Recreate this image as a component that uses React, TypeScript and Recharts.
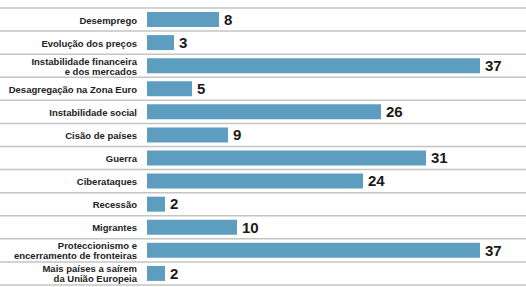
import { Bar, BarChart, CartesianGrid, LabelList, XAxis, YAxis } from "recharts";

const CATEGORIES = [
  "Desemprego",
  "Evolução dos preços",
  "Instabilidade financeira\ne dos mercados",
  "Desagregação na Zona Euro",
  "Instabilidade social",
  "Cisão de países",
  "Guerra",
  "Ciberataques",
  "Recessão",
  "Migrantes",
  "Proteccionismo e\nencerramento de fronteiras",
  "Mais países a saírem\nda União Europeia",
];
const VALUES = [8, 3, 37, 5, 26, 9, 31, 24, 2, 10, 37, 2];

const DATA = CATEGORIES.map((name, i) => ({ name, value: VALUES[i] }));

const FONT = "'Liberation Sans', Arial, sans-serif";

function CategoryTick(props: any) {
  const { x, y, payload } = props;
  const lines: string[] = String(payload.value).split("\n");
  const lh = 10;
  const tx = x - 4;
  const start = y - ((lines.length - 1) * lh) / 2;
  return (
    <text x={tx} y={start} textAnchor="end" dominantBaseline="central" fontFamily={FONT} fontSize={9.5} fontWeight="bold" fill="#222">
      {lines.map((l, i) => (
        <tspan key={i} x={tx} y={start + i * lh} dominantBaseline="central">
          {l}
        </tspan>
      ))}
    </text>
  );
}

export default function App() {
  return (
    <div style={{ position: "absolute", left: 0, top: 0, width: 526, height: 287, background: "#fff" }}>
      <BarChart width={526} height={287} data={DATA} layout="vertical" margin={{ top: 8, right: 1, bottom: 2, left: 0 }}>
        <CartesianGrid
          vertical={false}
          x={0}
          width={526}
          stroke="#c4c4c4"
          strokeWidth={1.5}
          horizontalCoordinatesGenerator={({ offset }: any) =>
            CATEGORIES.map((_, i) => offset.top + (i * offset.height) / CATEGORIES.length).concat(offset.top + offset.height)
          }
        />
        <XAxis type="number" hide domain={[0, 42]} />
        <YAxis
          type="category"
          dataKey="name"
          width={147}
          axisLine={false}
          tickLine={false}
          interval={0}
          tickMargin={0}
          tick={<CategoryTick />}
        />
        <Bar dataKey="value" fill="#5d9ec0" barSize={15} isAnimationActive={false}>
          <LabelList dataKey="value" position="right" offset={5} fontFamily={FONT} fontSize={15} fontWeight="bold" fill="#1a1a1a" />
        </Bar>
      </BarChart>
    </div>
  );
}
